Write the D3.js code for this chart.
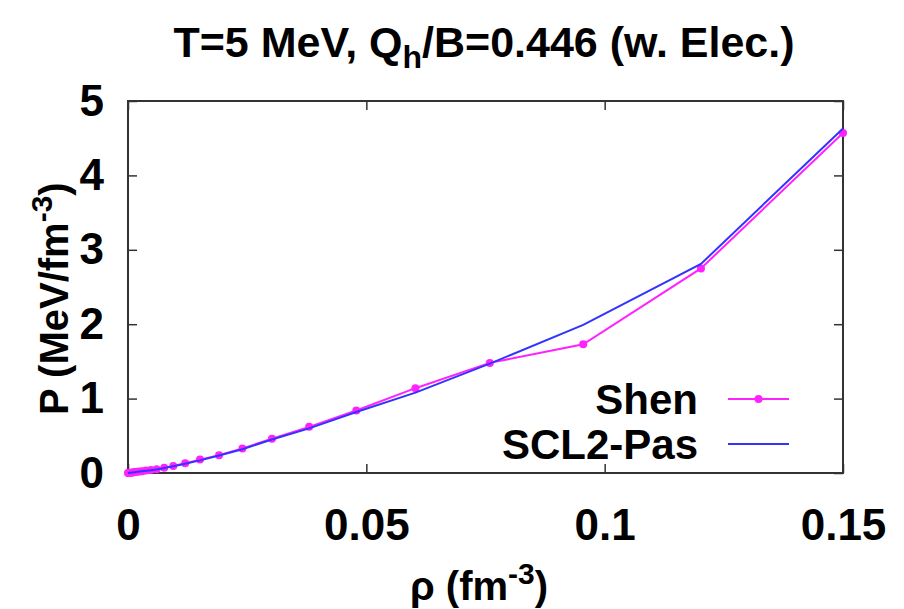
<!DOCTYPE html>
<html>
<head>
<meta charset="utf-8">
<script src="https://cdn.jsdelivr.net/npm/d3@7"></script>
<style>
  html, body { margin: 0; padding: 0; background: #fff; }
  svg { display: block; font-family: "Liberation Sans", Arial, sans-serif; font-weight: bold; }
</style>
</head>
<body>
<div id="chart"></div>
<script>
// density grid (fm^-3), shared by both curves
const rho = [0, 0.0001, 0.0003, 0.0006, 0.00095, 0.0012, 0.0015, 0.0019, 0.0024, 0.0030,
    0.0038, 0.0048, 0.0060, 0.0076, 0.0095, 0.0120, 0.0151, 0.0191, 0.0240, 0.0302,
    0.0380, 0.0479, 0.0603, 0.0759, 0.0955, 0.1202, 0.15];

// pressure (MeV/fm^-3)
const shenP = [0, 0.001, 0.0025, 0.005, 0.0075, 0.0095, 0.012, 0.016, 0.02, 0.025,
    0.032, 0.04, 0.05, 0.07, 0.095, 0.13, 0.18, 0.24, 0.33, 0.46,
    0.62, 0.84, 1.14, 1.48, 1.73, 2.75, 4.57];

const sclP = [0, 0.0009, 0.0023, 0.0045, 0.007, 0.009, 0.0115, 0.015, 0.019, 0.024,
    0.03, 0.038, 0.048, 0.066, 0.09, 0.125, 0.17, 0.235, 0.32, 0.45,
    0.60, 0.82, 1.08, 1.47, 1.99, 2.81, 4.63];

const xTicks = [0, 0.05, 0.1, 0.15];
const yTicks = [0, 1, 2, 3, 4, 5];

const seriesNames = ['Shen', 'SCL2-Pas'];
const seriesColors = ['#ff22ff', '#3333ff'];

const width = 904, height = 609;
const margin = { top: 101, right: 61, bottom: 136, left: 128 };
const innerW = width - margin.left - margin.right;
const innerH = height - margin.top - margin.bottom;

const svg = d3.select('#chart')
    .append('svg')
    .attr('width', width)
    .attr('height', height);

const x = d3.scaleLinear().domain([0, 0.15]).range([margin.left, margin.left + innerW]);
const y = d3.scaleLinear().domain([0, 5]).range([margin.top + innerH, margin.top]);

const fmt = d => d === 0 ? '0' : String(d);

// axes, ticks pointing inward, mirrored on top/right
svg.append('g')
    .attr('class', 'axis')
    .attr('transform', `translate(0, ${margin.top + innerH})`)
    .call(d3.axisBottom(x).tickValues(xTicks).tickFormat(fmt)
        .tickSizeInner(-9).tickSizeOuter(0).tickPadding(36));

svg.append('g')
    .attr('class', 'axis')
    .attr('transform', `translate(${margin.left}, 0)`)
    .call(d3.axisLeft(y).tickValues(yTicks).tickFormat(fmt)
        .tickSizeInner(-9).tickSizeOuter(0).tickPadding(24));

svg.append('g')
    .attr('class', 'axis')
    .attr('transform', `translate(0, ${margin.top})`)
    .call(d3.axisTop(x).tickValues(xTicks).tickFormat('')
        .tickSizeInner(-9).tickSizeOuter(0));

svg.append('g')
    .attr('class', 'axis')
    .attr('transform', `translate(${margin.left + innerW}, 0)`)
    .call(d3.axisRight(y).tickValues(yTicks).tickFormat('')
        .tickSizeInner(-9).tickSizeOuter(0));

svg.selectAll('.axis .domain').remove();
svg.selectAll('.axis line').attr('stroke', '#333').attr('stroke-width', 1.5);
svg.selectAll('.axis text')
    .attr('fill', '#000')
    .style('font-size', '44px')
    .style('font-family', '"Liberation Sans", Arial, sans-serif')
    .style('font-weight', 'bold');

svg.append('rect')
    .attr('x', margin.left)
    .attr('y', margin.top)
    .attr('width', innerW)
    .attr('height', innerH)
    .attr('fill', 'none')
    .attr('stroke', '#333')
    .attr('stroke-width', 2);

// curves
const shenData = rho.map((r, i) => ({ r, p: shenP[i] }));
const sclData = rho.map((r, i) => ({ r, p: sclP[i] }));

const line = d3.line()
    .x(d => x(d.r))
    .y(d => y(d.p));

svg.append('path')
    .datum(shenData)
    .attr('fill', 'none')
    .attr('stroke', seriesColors[0])
    .attr('stroke-width', 2)
    .attr('d', line);

svg.selectAll('.shen-dot')
    .data(shenData)
    .enter()
    .append('circle')
    .attr('class', 'shen-dot')
    .attr('cx', d => x(d.r))
    .attr('cy', d => y(d.p))
    .attr('r', 4)
    .attr('fill', seriesColors[0]);

svg.append('path')
    .datum(sclData)
    .attr('fill', 'none')
    .attr('stroke', seriesColors[1])
    .attr('stroke-width', 2)
    .attr('d', line);

// legend
const legend = svg.append('g').attr('class', 'legend');
seriesNames.forEach((name, i) => {
    const ly = 399 + i * 45;
    legend.append('text')
        .attr('x', 698)
        .attr('y', ly)
        .attr('dy', '0.35em')
        .attr('text-anchor', 'end')
        .style('font-size', '42px')
        .text(name);
    legend.append('line')
        .attr('x1', 728).attr('x2', 789)
        .attr('y1', ly).attr('y2', ly)
        .attr('stroke', seriesColors[i])
        .attr('stroke-width', 2);
    if (i === 0) {
        legend.append('circle')
            .attr('cx', 758.5).attr('cy', ly).attr('r', 4)
            .attr('fill', seriesColors[i]);
    }
});

// title
const title = svg.append('text')
    .attr('x', 484)
    .attr('y', 57)
    .attr('text-anchor', 'middle')
    .style('font-size', '43px');
title.append('tspan').text('T=5 MeV, Q');
title.append('tspan').attr('dy', 11).style('font-size', '32px').text('h');
title.append('tspan').attr('dy', -11).text('/B=0.446 (w. Elec.)');

// y label
const ylab = svg.append('text')
    .attr('transform', 'translate(68, 415) rotate(-90)')
    .attr('text-anchor', 'start')
    .style('font-size', '40px');
ylab.append('tspan').text('P (MeV/fm');
ylab.append('tspan').attr('dy', -16).style('font-size', '30px').text('-3');
ylab.append('tspan').attr('dy', 16).text(')');

// x label
const xlab = svg.append('text')
    .attr('x', 410)
    .attr('y', 600)
    .attr('text-anchor', 'start')
    .style('font-size', '40px');
xlab.append('tspan').text('ρ (fm');
xlab.append('tspan').attr('dy', -16).style('font-size', '30px').text('-3');
xlab.append('tspan').attr('dy', 16).text(')');
</script>
</body>
</html>
